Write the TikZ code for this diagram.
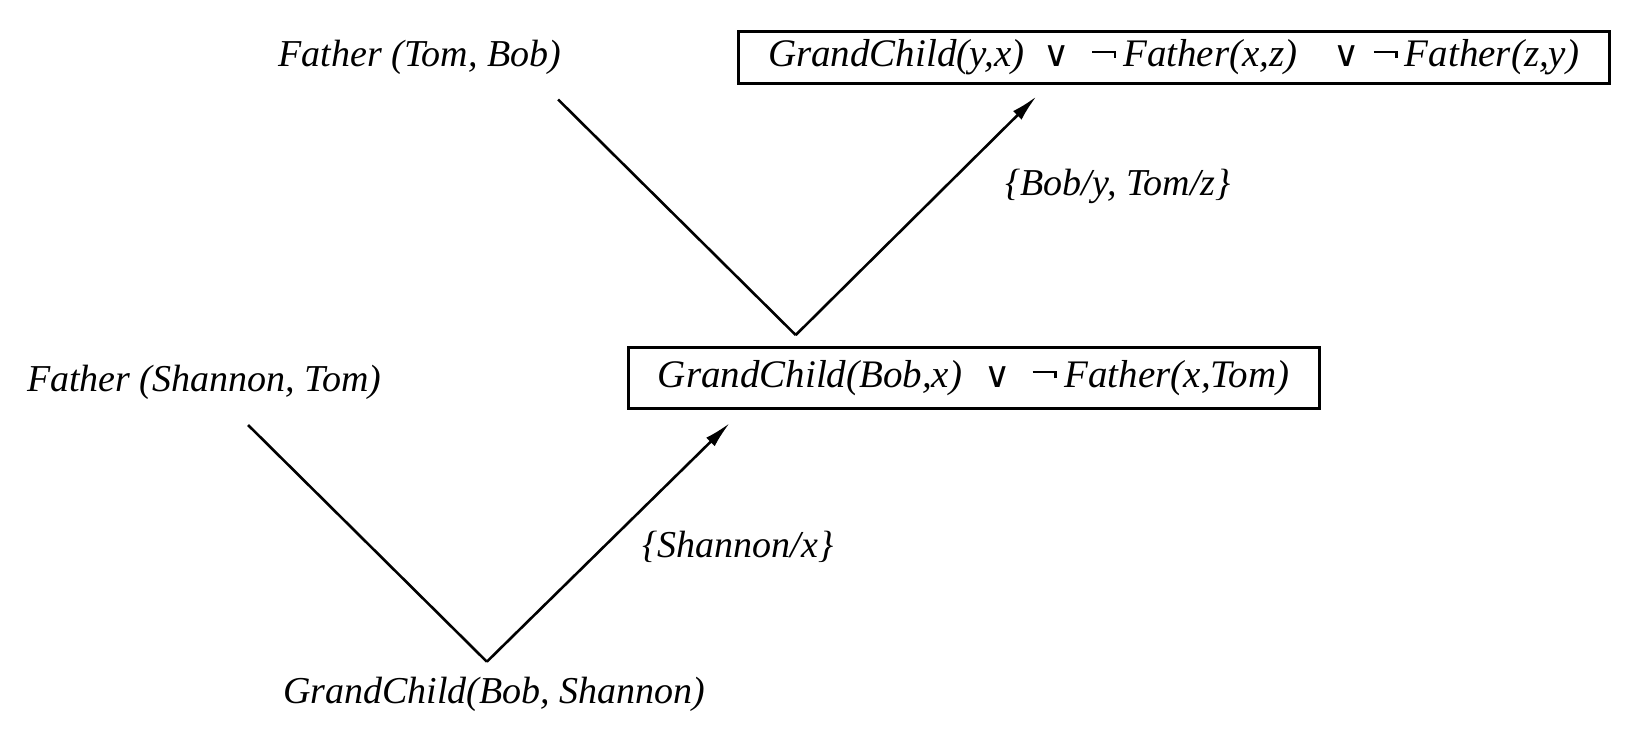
\documentclass[tikz,border=0pt]{standalone}
\usepackage{fontspec}
\setmainfont{Liberation Serif}
\newfontfamily\symfont{DejaVu Sans}
\usetikzlibrary{arrows.meta}
\newcommand{\orsym}{{\symfont\fontsize{36}{36}\selectfont ∨}}
\newcommand{\negsym}{\rule[14pt]{24pt}{2.4pt}\kern-2.4pt\rule[9pt]{2.4pt}{7.4pt}}

\begin{document}
\begin{tikzpicture}[x=1.047pt, y=-1.047pt,
    clause/.style={font=\fontsize{38}{44}\selectfont\itshape, inner sep=0pt},
    box/.style={clause, font=\fontsize{39}{44}\selectfont\itshape, draw, line width=2.8pt},
    edge/.style={line width=2.6pt},
    arr/.style={edge, -{Latex[length=27pt, width=12pt]}}]
    \useasboundingbox (0,0) rectangle (1568.3,703);
    % Resolutionsbaum
    \node[box, minimum width=871pt, minimum height=52pt] (goal) at (1121,55)
        {GrandChild(y,x)\hspace{19pt}\orsym\hspace{22pt}\negsym\hspace{7pt}Father(x,z)\hspace{36pt}\orsym\hspace{14pt}\negsym\hspace{7pt}Father(z,y)};
    \node[clause] (ftb) at (401,55) {Father (Tom, Bob)};
    \node[box, minimum width=691pt, minimum height=61pt] (res) at (930,361)
        {GrandChild(Bob,x)\hspace{22pt}\orsym\hspace{22pt}\negsym\hspace{8pt}Father(x,Tom)};
    \node[clause] (fst) at (195,365) {Father (Shannon, Tom)};
    \node[clause] (fin) at (472,663) {GrandChild(Bob, Shannon)};
    \node[clause] (subA) at (1068,178) {\{Bob/y, Tom/z\}};
    \node[clause] (subB) at (705,522) {\{Shannon/x\}};
    \coordinate (s1) at (533,95);
    \coordinate (v1) at (760,320);
    \coordinate (a1) at (990,92);
    \coordinate (s2) at (237,406);
    \coordinate (v2) at (465,632);
    \coordinate (a2) at (697,404);
    \draw[edge] (s1) -- (v1);
    \draw[arr] (v1) -- (a1);
    \draw[edge] (s2) -- (v2);
    \draw[arr] (v2) -- (a2);
\end{tikzpicture}
\end{document}
